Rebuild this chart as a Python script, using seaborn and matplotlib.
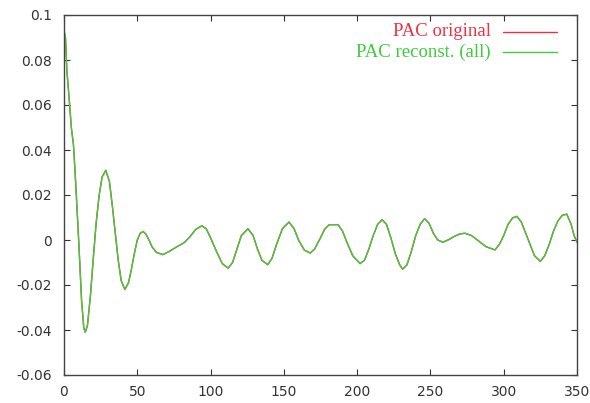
import matplotlib
matplotlib.use("Agg")
import matplotlib.pyplot as plt
from matplotlib.lines import Line2D
import seaborn as sns
import pandas as pd

# Lag values (x axis) and PAC values
lag = [0, 1, 2, 3.5, 5, 6.5, 8, 10, 12, 13.5, 14.5, 16, 18, 20, 22, 24, 26, 28.5,
       31, 33, 35, 37, 39, 41.5, 44, 46, 48, 50, 52, 54, 56, 58, 60, 63, 67.5,
       72, 77, 82, 86, 90, 94, 97, 100, 104, 108, 112, 115, 118, 121, 125.5,
       129, 132, 135, 139, 142, 145, 149, 153.5, 157, 160, 164, 168, 171, 175,
       178, 181, 187, 190, 193, 197, 202, 205, 208, 211, 214, 217, 220, 223,
       226, 229, 231, 234, 237, 240, 243, 246, 249, 252, 255, 258.5, 262, 266,
       270, 273.5, 278, 283, 288, 294, 297, 300, 303, 306, 309, 312, 315, 318,
       321, 325, 328, 331, 334, 337, 340, 343, 346, 348, 350]

pac_original = [0.093, 0.090, 0.075, 0.063, 0.050, 0.042, 0.025, 0.000, -0.027,
                -0.039, -0.041, -0.038, -0.025, -0.008, 0.008, 0.020, 0.028, 0.031,
                0.026, 0.015, 0.003, -0.009, -0.018, -0.022, -0.019, -0.013, -0.006,
                0.000, 0.003, 0.0038, 0.0025, 0.000, -0.003, -0.0055, -0.0065,
                -0.005, -0.003, -0.0012, 0.0015, 0.0048, 0.0063, 0.005, 0.001,
                -0.005, -0.0105, -0.0125, -0.010, -0.004, 0.002, 0.005,
                0.002, -0.004, -0.009, -0.011, -0.008, -0.002, 0.005, 0.008, 0.005,
                0.000, -0.0045, -0.0058, -0.004, 0.001, 0.005, 0.0068, 0.0068, 0.004,
                -0.001, -0.007, -0.0105, -0.009, -0.004, 0.002, 0.007, 0.009, 0.007,
                0.001, -0.006, -0.011, -0.013, -0.011, -0.005, 0.002, 0.007, 0.0095,
                0.0075, 0.003, 0.000, -0.001, 0.000, 0.0015, 0.0027, 0.003, 0.002,
                -0.0005, -0.003, -0.0044, -0.002, 0.002, 0.007, 0.0098, 0.0105,
                0.008, 0.003, -0.002, -0.007, -0.0095, -0.007, -0.002, 0.004, 0.0085,
                0.011, 0.0115, 0.007, 0.002, -0.001]

# The reconstruction overlaps the original everywhere in the picture
pac_recon = list(pac_original)

series_names = ["PAC original", "PAC reconst. (all)"]
series_colors = ["#f03040", "#3ccc3c"]

x_ticks = [0, 50, 100, 150, 200, 250, 300, 350]
y_ticks = [0.1, 0.08, 0.06, 0.04, 0.02, 0.0, -0.02, -0.04, -0.06]
y_tick_labels = ["0.1", "0.08", "0.06", "0.04", "0.02", "0", "-0.02", "-0.04", "-0.06"]

df = pd.DataFrame({
    "lag": lag + lag,
    "pac": pac_original + pac_recon,
    "series": [series_names[0]] * len(lag) + [series_names[1]] * len(lag),
})

sns.set_style("ticks")
plt.rcParams["font.family"] = ["DejaVu Sans"]

fig = plt.figure(figsize=(5.9, 4.03), dpi=100)
ax = fig.add_axes([64 / 590, 1 - 375 / 403, (577 - 64) / 590, (375 - 15) / 403])

sns.lineplot(data=df, x="lag", y="pac", hue="series", palette=series_colors,
             estimator=None, sort=False, linewidth=1.0, legend=False, ax=ax)

ax.set_xlim(0, 350)
ax.set_ylim(-0.06, 0.1)
ax.set_xticks(x_ticks)
ax.set_xticklabels([str(t) for t in x_ticks])
ax.set_yticks(y_ticks)
ax.set_yticklabels(y_tick_labels)
ax.set_xlabel("")
ax.set_ylabel("")
ax.tick_params(direction="in", top=True, right=True, length=4, width=0.8,
               labelsize=10, colors="#333333")
ax.tick_params(axis="y", pad=8.5)
ax.tick_params(axis="x", pad=7)
for sp in ax.spines.values():
    sp.set_visible(True)
    sp.set_color("#444444")
    sp.set_linewidth(1.0)

# gnuplot-style key: right-aligned labels followed by line samples
ax_h = 360.0
for i, (name, col) in enumerate(zip(series_names, series_colors)):
    ypix = 32 + 20 * i
    yfrac = 1 - (ypix - 15) / ax_h
    ax.text((491 - 64) / 513, yfrac, name, transform=ax.transAxes, ha="right",
            va="center", fontsize=13.5, color=col, family="Liberation Serif")
    ax.add_line(Line2D([(503 - 64) / 513, (557 - 64) / 513], [yfrac, yfrac],
                       transform=ax.transAxes, color=col, linewidth=1.0))

fig.savefig("out.png", dpi=100)
